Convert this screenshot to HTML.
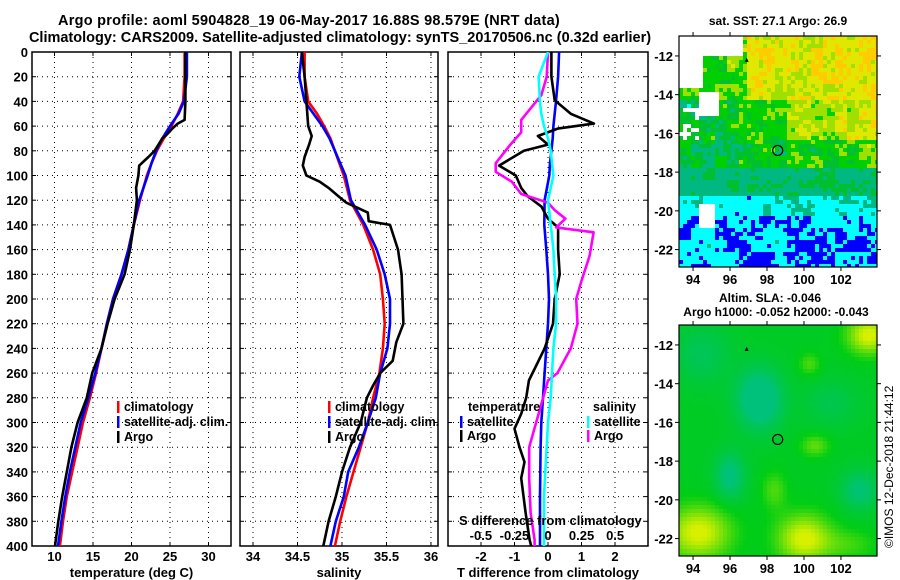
<!DOCTYPE html>
<html><head><meta charset="utf-8">
<style>
html,body{margin:0;padding:0;background:#fff;}
svg{display:block;font-family:"Liberation Sans",Arial,sans-serif;font-weight:bold;}
text{fill:#000;}
</style></head>
<body>
<svg id="chart" width="900" height="580" viewBox="0 0 900 580" xmlns="http://www.w3.org/2000/svg">
<rect width="900" height="580" fill="#fff"/>
<text x="309" y="25" font-size="14.5" letter-spacing="0.25" text-anchor="middle">Argo profile: aoml 5904828_19 06-May-2017 16.88S 98.579E (NRT data)</text>
<text x="340" y="42" font-size="14.5" text-anchor="middle">Climatology: CARS2009. Satellite-adjusted climatology: synTS_20170506.nc (0.32d earlier)</text>
<text x="778" y="25" font-size="12" text-anchor="middle">sat. SST: 27.1 Argo: 26.9</text>
<text x="770" y="302" font-size="12" text-anchor="middle">Altim. SLA: -0.046</text>
<text x="776" y="316" font-size="12" text-anchor="middle">Argo h1000: -0.052 h2000: -0.043</text>
<text transform="translate(893,548) rotate(-90)" font-size="12" font-weight="normal">©IMOS 12-Dec-2018 21:44:12</text>
<g id="layer"></g>
</svg>
<script>
// ---- data ----
const tDepth = [0,20,40,50,60,70,80,90,100,120,140,160,180,200,220,240,260,280,300,320,340,360,380,400];
const tClim = [26.9,26.9,26.7,26.0,25.2,24.2,23.3,22.6,22.0,21.1,20.3,19.6,18.7,17.6,16.8,16.1,15.4,14.6,13.7,13.0,12.3,11.6,11.1,10.7];
const tSat = [27.2,27.2,26.8,26.1,25.0,24.0,23.2,22.6,22.1,21.0,20.3,19.6,18.7,17.6,16.8,16.1,15.3,14.4,13.4,12.7,12.0,11.4,10.9,10.45];
const taDepth = [0,20,40,55,58,62,68,70,80,85,92,100,110,120,140,160,180,200,220,240,260,280,300,320,340,360,380,400];
const tArgo = [27.0,27.0,27.0,26.9,26.0,25.3,24.4,24.0,23.0,22.2,21.0,20.9,20.6,20.7,20.3,19.8,19.1,17.8,16.9,16.1,14.9,14.2,13.0,12.2,11.6,11.0,10.5,10.07];
const sClim = [34.58,34.58,34.62,34.72,34.8,34.87,34.92,34.97,35.02,35.09,35.24,35.35,35.43,35.46,35.48,35.46,35.42,35.35,35.29,35.21,35.13,35.05,34.98,34.92];
const sSat = [34.55,34.52,34.58,34.68,34.78,34.86,34.92,34.98,35.04,35.1,35.26,35.39,35.48,35.54,35.54,35.51,35.43,35.38,35.29,35.19,35.07,35.02,34.93,34.87];
const saDepth = [0,20,40,60,68,75,85,92,100,105,110,118,122,130,137,140,160,180,200,220,235,250,260,270,280,300,320,340,360,380,400];
const sArgo = [34.55,34.58,34.6,34.62,34.66,34.63,34.58,34.56,34.6,34.75,34.85,34.98,35.05,35.29,35.3,35.54,35.63,35.67,35.68,35.69,35.61,35.57,35.43,35.35,35.28,35.21,35.09,35.0,34.93,34.85,34.79];
const dTSat = [0.33,0.3,0.24,0.2,0.16,0.14,0.1,0.06,0.04,-0.1,-0.11,-0.05,0.0,0.03,0.0,-0.05,-0.1,-0.15,-0.2,-0.22,-0.23,-0.24,-0.24,-0.24];
const dtaDepth = [0,20,39,50,58,62,68,75,80,92,100,110,117,125,135,142,160,180,200,220,240,266,280,293,305,320,332,345,373,395,400];
const dTArgo = [0.1,0.1,0.2,0.68,1.37,0.29,-0.3,0.0,-0.72,-1.46,-0.96,-0.8,-0.6,-0.2,0.0,0.3,0.3,0.35,0.2,0.15,-0.1,-0.57,-0.65,-0.8,-1.0,-0.85,-0.7,-0.8,-0.67,-0.55,-0.5];
const dSSat = [0.0,-0.07,-0.06,-0.05,-0.03,0.0,0.02,0.03,0.04,0.0,0.02,0.04,0.05,0.06,0.06,0.04,0.03,0.02,0.0,-0.01,-0.02,-0.03,-0.03,-0.03];
const dsaDepth = [0,20,35,55,65,75,90,97,105,115,122,128,135,142,146,165,185,200,220,240,260,266,293,320,345,373,395,400];
const dSArgo = [0.0,-0.01,-0.05,-0.2,-0.2,-0.28,-0.39,-0.39,-0.27,-0.2,0.0,0.05,0.13,0.06,0.34,0.31,0.25,0.21,0.22,0.17,0.07,0.0,-0.07,-0.14,-0.14,-0.13,-0.1,-0.1];
const depthTicks = [0,20,40,60,80,100,120,140,160,180,200,220,240,260,280,300,320,340,360,380,400];
const tTicks = [10,15,20,25,30];
const sTicks = [34,34.5,35,35.5,36];
const dTTicks = [-2,-1,0,1,2];
const dSTicks = [-0.5,-0.25,0,0.25,0.5];
const lonTicks = [94,96,98,100,102];
const latTicks = [-12,-14,-16,-18,-20,-22];
const argoLon = 98.579, argoLat = -16.88;

const NS = "http://www.w3.org/2000/svg";
const L = document.getElementById('layer');
function mk(tag, attrs, parent){const e=document.createElementNS(NS,tag);for(const k in attrs)e.setAttribute(k,attrs[k]);(parent||L).appendChild(e);return e;}
function txt(x,y,s,size,anchor,parent){const t=mk('text',{x:x,y:y,'font-size':size,'text-anchor':anchor||'middle'},parent);t.textContent=s;return t;}

// ---- axes ----
const Y0=52, Y1=546;
const yD = d => Y0 + (d/400)*(Y1-Y0);
const panels = [
 {name:'temperature', x0:32, x1:231, lo:7.08, hi:32.92, ticks:tTicks, title:'temperature (deg C)', fmt:v=>String(v)},
 {name:'salinity', x0:240, x1:438, lo:33.854, hi:36.079, ticks:sTicks, title:'salinity', fmt:v=>String(v)},
 {name:'t-difference', x0:448, x1:648, lo:-2.985, hi:2.985, ticks:dTTicks, title:'T difference from climatology', fmt:v=>String(v)}
];
panels.forEach(p=>{p.x = v => p.x0 + (v-p.lo)/(p.hi-p.lo)*(p.x1-p.x0);});
const sLo=-0.745, sHi=0.745;
const xS = v => panels[2].x0 + (v-sLo)/(sHi-sLo)*(panels[2].x1-panels[2].x0);

panels.forEach((p,i)=>{
  const g = mk('g',{});
  
  
  const cp = mk('clipPath',{id:'clip'+i},g);
  mk('rect',{x:p.x0,y:Y0,width:p.x1-p.x0,height:Y1-Y0},cp);
  depthTicks.forEach(d=>{
    if(d>0&&d<400){ const gl=mk('line',{x1:p.x0,x2:p.x1,y1:yD(d),y2:yD(d),stroke:'#000','stroke-width':1,'stroke-dasharray':'1,4'},g);
        }
    mk('line',{x1:p.x0,x2:p.x0+4,y1:yD(d),y2:yD(d),stroke:'#000'},g);
    mk('line',{x1:p.x1-4,x2:p.x1,y1:yD(d),y2:yD(d),stroke:'#000'},g);
    if(i===0){ const t=txt(28,yD(d)+5,String(d),13,'end',g);
        }
  });
  p.ticks.forEach(v=>{
    const x=p.x(v);
    const gl=mk('line',{x1:x,x2:x,y1:Y0,y2:Y1,stroke:'#000','stroke-dasharray':'1,4'},g);
     
    mk('line',{x1:x,x2:x,y1:Y1-4,y2:Y1,stroke:'#000'},g);
    mk('line',{x1:x,x2:x,y1:Y0,y2:Y0+4,stroke:'#000'},g);
    const t=txt(x,561,p.fmt(v),13,'middle',g);
     
  });
  const fr=mk('rect',{x:p.x0,y:Y0,width:p.x1-p.x0,height:Y1-Y0,fill:'none',stroke:'#000','stroke-width':1.5},g);
   
  const tt=txt((p.x0+p.x1)/2,577,p.title,13,'middle',g);
   
  p.g=g;
});
const sdt = txt(459,525,'S difference from climatology',13,'start');


dSTicks.forEach(v=>{const t=txt(xS(v),540,String(v),13,'middle');
  
  });

function series(pi, depths, vals, xf, color, name){
  const pts = depths.map((d,k)=>xf(vals[k]).toFixed(1)+','+yD(d).toFixed(1)).join(' ');
  const pl = mk('polyline',{points:pts,fill:'none',stroke:color,'stroke-width':2.6,'stroke-linejoin':'round','clip-path':'url(#clip'+pi+')'},panels[pi].g);
  
  
}
const P=panels;
series(0,tDepth,tClim,P[0].x,'#ff0000','temperature-climatology-line');
series(0,tDepth,tSat,P[0].x,'#0000ff','temperature-satellite-line');
series(0,taDepth,tArgo,P[0].x,'#000000','temperature-argo-line');
series(1,tDepth,sClim,P[1].x,'#ff0000','salinity-climatology-line');
series(1,tDepth,sSat,P[1].x,'#0000ff','salinity-satellite-line');
series(1,saDepth,sArgo,P[1].x,'#000000','salinity-argo-line');
series(2,tDepth,dTSat,P[2].x,'#0000ff','t-diff-satellite-line');
series(2,dtaDepth,dTArgo,P[2].x,'#000000','t-diff-argo-line');
series(2,dsaDepth,dSArgo,xS,'#ff00ff','s-diff-argo-line');
series(2,tDepth,dSSat,xS,'#00ffff','s-diff-satellite-line');

function legend(x,y,color,label){
  const g=mk('g',{});
  
  
  mk('rect',{x:x,y:y-10,width:2.5,height:12,fill:color},g);
  txt(x+7,y,label,12.5,'start',g);
}
legend(117,411,'#ff0000','climatology'); legend(117,426,'#0000ff','satellite-adj. clim.'); legend(117,441,'#000000','Argo');
legend(328,411,'#ff0000','climatology'); legend(328,426,'#0000ff','satellite-adj. clim.'); legend(328,441,'#000000','Argo');
const lt=txt(468,411,'temperature',12.5,'start');  
const ls=txt(593,411,'salinity',12.5,'start');  
legend(460,426,'#0000ff','satellite'); legend(460,440,'#000000','Argo');
legend(587,426,'#00ffff','satellite'); legend(587,440,'#ff00ff','Argo');

// ---- maps ----
function hash(i,j,s){let h=(i*374761393+j*668265263+s*2246822519)|0;h=(h^(h>>>13))*1274126177|0;h=h^(h>>>16);return ((h>>>0)%1000)/1000;}
function drawMap(name, top, bottom, colorFn){
  const x0=679,x1=877, lonLo=93.24, lonHi=103.95, latTop=-10.97;
  const pxLat=(bottom-top)/11.93;
  const xL = lon => x0+(lon-lonLo)/(lonHi-lonLo)*(x1-x0);
  const yL = lat => top+(latTop-lat)*pxLat;
  const g=mk('g',{});
  
  
  const cs=4;
  for(let i=0;x0+i*cs<x1;i++){for(let j=0;top+j*cs<bottom;j++){
    const lon=lonLo+(i*cs+2)/(x1-x0)*(lonHi-lonLo), lat=latTop-(j*cs+2)/pxLat;
    const c=colorFn(lon,lat,i,j); if(!c) continue;
    mk('rect',{x:x0+i*cs,y:top+j*cs,width:Math.min(cs,x1-x0-i*cs),height:Math.min(cs,bottom-top-j*cs),fill:c},g);
  }}
  mk('rect',{x:x0,y:top,width:x1-x0,height:bottom-top,fill:'none',stroke:'#000','stroke-width':1.2},g);
  lonTicks.forEach(v=>{const x=xL(v);mk('line',{x1:x,x2:x,y1:top-4,y2:top,stroke:'#000'},g);mk('line',{x1:x,x2:x,y1:bottom,y2:bottom+4,stroke:'#000'},g);
    const t=txt(x,bottom+17,String(v),13,'middle',g);  });
  latTicks.forEach(v=>{const y=yL(v);mk('line',{x1:x0-4,x2:x0,y1:y,y2:y,stroke:'#000'},g);mk('line',{x1:x1,x2:x1+4,y1:y,y2:y,stroke:'#000'},g);
    const t=txt(x0-6,y+5,String(v),13,'end',g);  });
  const c=mk('circle',{cx:xL(argoLon),cy:yL(argoLat),r:5,fill:'none',stroke:'#000','stroke-width':1.2},g);
   
  mk('path',{d:`M${xL(96.9)-2},${yL(-12.2)+2} l2,-4 l2,4 z`,fill:'#000'},g);
}
const sstPal=['#0000ff','#00ffff','#00b880','#00c030','#00d000','#a0e000','#e0e800','#ffcc00'];
drawMap('sst-map',36,267,(lon,lat,i,j)=>{
  if(lat>-12.1 && lon<96.7) return null;
  if(lat>-13.6 && lon<94.6) return null;
  if(lon<94.3 && lat<-14.6 && lat>-16.4 && hash(i,j,5)<0.5) return null;
  if(lon>94.3 && lon<95.4 && lat>-15.0 && lat<-13.8) return null;
  if(lon<95.2 && lon>94.4 && lat<-19.7 && lat>-20.9) return null;
  const bi=Math.floor(i/3), bj=Math.floor(j/3);
  let v, amp=1.8;
  if(lat>-14.2) v=lon>97?6.0+(lon-99)*0.1:4.3;
  else if(lat>-16.3) v=4.0+(lon-97.5)*0.3;
  else if(lat>-17.8) v=3.6+(lon-99)*0.15;
  else if(lat>-19.2) {v=2.3; amp=0.8;}
  else if(lat>-20.3) {v=1.3; amp=1.0;}
  else {v=0.6; amp=1.2;}
  v+= (hash(i,j,1)-0.5)*amp*0.8 + (hash(bi,bj,3)-0.5)*amp*0.9;
  v=Math.max(0,Math.min(7,Math.round(v)));
  return sstPal[v];
});
function mix(a,b,t){return 'rgb('+a.map((x,k)=>Math.round(x+(b[k]-x)*t)).join(',')+')';}
const teal=[0,192,136], green=[0,205,20], yel=[215,240,0];
const blobs=[[97.6,-14.8,1.2,1.5,-1.3],[96,-18.8,0.8,1.2,-0.9],[103,-19.5,1,1,-0.8],[94.3,-21.7,1.8,1.4,1.2],[100,-22,1.5,1.3,1.2],[98.4,-19.5,0.7,1,0.5],[103.5,-11.5,1.2,1.0,1.2],[100.6,-17.2,0.8,0.6,0.6],[100.3,-13,0.6,0.6,0.5],[94.5,-12.5,1.5,1.5,-0.5],[102.5,-22.3,1.5,0.8,0.4],[101.5,-15,1.5,1.2,-0.4]];
drawMap('sla-map',325,556,(lon,lat)=>{
  let v=-0.15;
  blobs.forEach(b=>{const dx=(lon-b[0])/b[2],dy=(lat-b[1])/b[3];v+=b[4]*Math.exp(-(dx*dx+dy*dy));});
  v=Math.max(-1,Math.min(1,v));
  return v<0?mix(green,teal,-v*0.9):mix(green,yel,v);
});
</script>
</body></html>
